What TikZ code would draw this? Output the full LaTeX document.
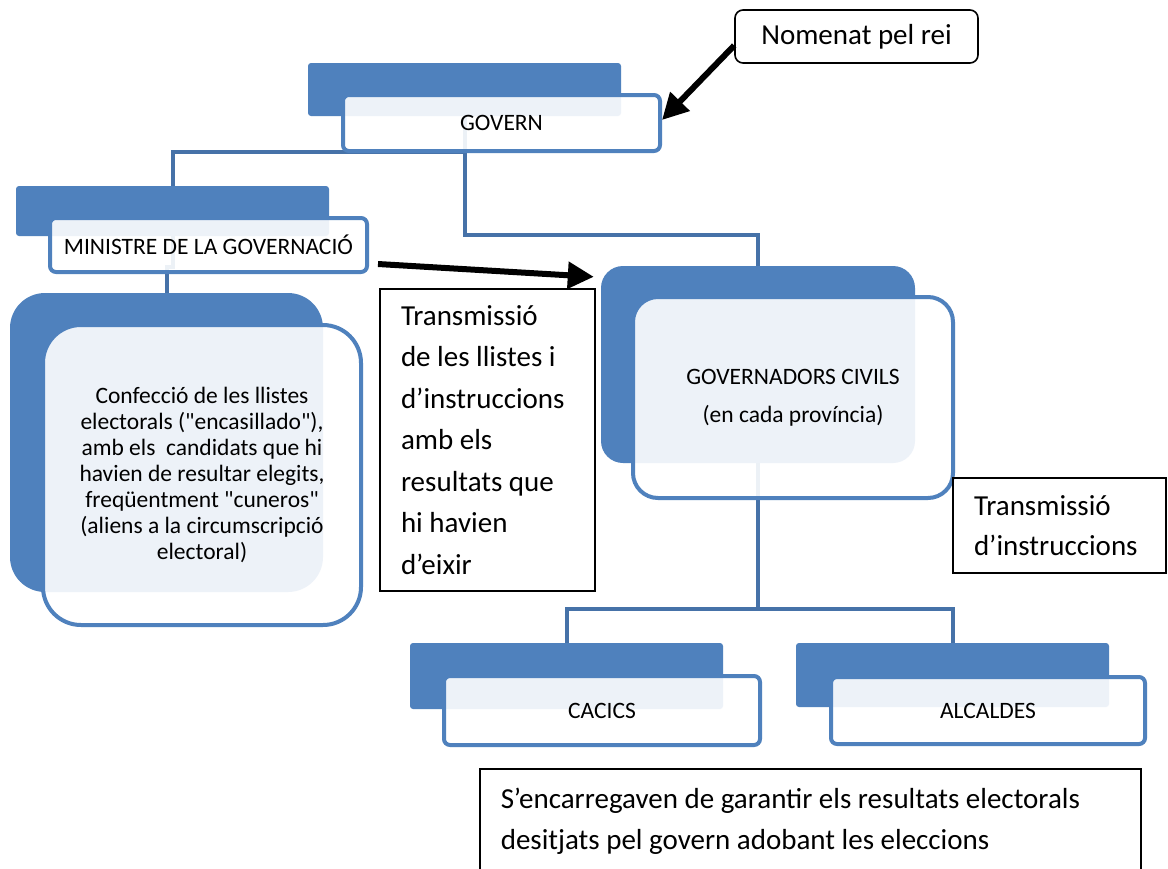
\documentclass[tikz,border=0pt]{standalone}
\usepackage{fontspec}
\setmainfont{Carlito}[Ligatures=TeXOff]
\usetikzlibrary{arrows.meta,calc}
\definecolor{blueA}{HTML}{4F81BD}
\definecolor{connC}{HTML}{4672A8}
\begin{document}
\begin{tikzpicture}[x=1pt,y=-1pt,
 backbox/.style={fill=blueA, draw=none, inner sep=0pt, rounded corners=3pt},
 frontbox/.style={draw=blueA, line width=4pt, fill=white, fill opacity=0.9, text opacity=1, inner sep=0pt, rounded corners=6pt, align=center, font=\fontsize{23.5}{28}\selectfont},
 conn/.style={draw=connC, line width=4pt},
 note/.style={draw=black, line width=1.6pt, inner sep=0pt, font=\fontsize{29}{41.5}\selectfont},
 bigarrow/.style={line width=6pt, -{Triangle[length=26pt,width=26pt]}}]
\useasboundingbox (0,0) rectangle (1168,868);
\clip (0,0) rectangle (1168,868);
\fill[white] (0,0) rectangle (1168,868);

% back boxes
\node[backbox, minimum width=313pt, minimum height=53pt] (govB) at (464.5,89.5) {};
\node[backbox, minimum width=313pt, minimum height=50pt] (minB) at (172.5,211) {};
\node[backbox, rounded corners=35pt, minimum width=313pt, minimum height=299pt] (confB) at (166.5,442.5) {};
\node[backbox, rounded corners=22pt, minimum width=314pt, minimum height=197pt] (gcB) at (758,364.5) {};
\node[backbox, minimum width=313pt, minimum height=66pt] (cacB) at (566.5,676) {};
\node[backbox, minimum width=313pt, minimum height=64pt] (alcB) at (952.5,675) {};

% connectors
\draw[conn] (govB.south) -- ($(govB.south)+(0,36)$) -| (minB.north);
\draw[conn] (govB.south) -- ($(govB.south)+(0,119)$) -| (gcB.north);
\draw[conn] (minB.south) -- ($(minB.south)+(0,31)$) -| (confB.north);
\draw[conn] (gcB.south) -- ($(gcB.south)+(0,146)$) -| (cacB.north);
\draw[conn] (gcB.south) -- ($(gcB.south)+(0,146)$) -| (alcB.north);

% front boxes
\node[frontbox, minimum width=317pt, minimum height=56pt] (govF) at (501.5,123) {GOVERN};
\node[frontbox, minimum width=317pt, minimum height=54pt] (minF) at (208.5,245) {MINISTRE DE LA GOVERNACIÓ};
\node[frontbox, rounded corners=38pt, minimum width=318pt, minimum height=300pt, font=\fontsize{23.5}{26}\selectfont] (confF) at (202,475)
 {Confecció de les llistes\\electorals ("encasillado"),\\amb els\ \ candidats que hi\\havien de resultar elegits,\\freqüentment "cuneros"\\(aliens a la circumscripció\\electoral)};
\node[frontbox, rounded corners=25pt, minimum width=320pt, minimum height=201pt, font=\fontsize{23.5}{38}\selectfont] (gcF) at (793,397.5)
 {GOVERNADORS CIVILS\\(en cada província)};
\node[frontbox, minimum width=316pt, minimum height=69pt] (cacF) at (602,710.5) {CACICS};
\node[frontbox, minimum width=314pt, minimum height=67pt] (alcF) at (988,710.5) {ALCALDES};

% notes
\node[note, rounded corners=8pt, minimum width=243pt, minimum height=53pt] (nom) at (856.5,36.5) {Nomenat pel rei};
\node[note, minimum width=215pt, minimum height=302pt, text width=173pt, inner xsep=21pt, align=flush left] (tr1) at (487.5,440)
 {Transmissió\\de les llistes i\\d’instruccions\\amb els\\resultats que\\hi havien\\d’eixir};
\node[note, minimum width=213pt, minimum height=95pt, text width=171pt, inner xsep=21pt, align=flush left, font=\fontsize{29}{40}\selectfont] (tr2) at (1059.5,525.5)
 {Transmissió\\d’instruccions};
\node[note, anchor=north west, minimum width=661pt, minimum height=105pt, text width=619pt, inner xsep=21pt, align=flush left] (bot) at (479,768)
 {S’encarregaven de garantir els resultats electorals\\desitjats pel govern adobant les eleccions};

% arrows
\draw[bigarrow] ($(nom.west)+(0,9)$) -- ($(govF.east)+(0,-3)$);
\draw[bigarrow] ($(minF.east)+(9,19)$) -- ($(gcB.north west)+(-7,11)$);
\end{tikzpicture}
\end{document}
